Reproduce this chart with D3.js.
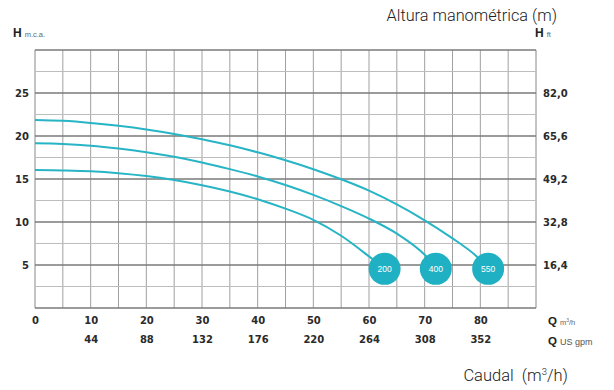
<!DOCTYPE html>
<html><head><meta charset="utf-8">
<script src="https://cdn.jsdelivr.net/npm/d3@7"></script>
<style>body{margin:0;background:#fff}</style>
</head><body>
<svg id="chart" width="614" height="390"></svg>
<script>
// ---- data ----
const flowM3hTicks = [0,10,20,30,40,50,60,70,80];
const flowGpmTicks = [44,88,132,176,220,264,308,352];
const flowGpmAt    = [10,20,30,40,50,60,70,80];
const headTicks    = [5,10,15,20,25];
const headFtLabels = ["16,4","32,8","49,2","65,6","82,0"];
const seriesNames  = ["200","400","550"];
const q200 = [0,5,10,15,20,25,30,35,40,45,50,55,60,62.8];
const h200 = [16.05,16.0,15.9,15.68,15.35,14.88,14.28,13.55,12.65,11.55,10.25,8.4,6.0,4.55];
const q400 = [0,5,10,15,20,25,30,35,40,45,50,55,60,65,70,72];
const h400 = [19.15,19.08,18.88,18.55,18.12,17.58,16.92,16.15,15.3,14.3,13.15,11.85,10.4,8.65,6.2,4.55];
const q550 = [0,5,10,15,20,25,30,35,40,45,50,55,60,65,70,75,79,81.4];
const h550 = [21.86,21.76,21.52,21.18,20.76,20.24,19.62,18.92,18.1,17.18,16.14,14.97,13.65,12.05,10.2,8.1,6.2,4.55];

const series = [
  {name: seriesNames[0], q: q200, h: h200},
  {name: seriesNames[1], q: q400, h: h400},
  {name: seriesNames[2], q: q550, h: h550}
];

const svg = d3.select("#chart");
const x = d3.scaleLinear().domain([0,90]).range([35,536]);
const y = d3.scaleLinear().domain([0,30]).range([308,50]);
const teal = "#27b5c6";
const tickFont = "DejaVu Sans, Liberation Sans, sans-serif";

// grid
const g = svg.append("g");
g.selectAll("line.v").data(d3.range(0,91,5)).join("line")
  .attr("x1", d=>x(d)).attr("x2", d=>x(d)).attr("y1", y(0)).attr("y2", y(30))
  .attr("stroke", d=> (d===0||d===90) ? "#888" : "#a0a0a0").attr("stroke-width", 1);
g.selectAll("line.h").data(d3.range(0,30.1,2.5)).join("line")
  .attr("x1", x(0)).attr("x2", x(90)).attr("y1", d=>y(d)).attr("y2", d=>y(d))
  .attr("stroke", d=> (d%5===0) ? "#7a7a7a" : "#bdbdbd")
  .attr("stroke-width", d=> (d===0) ? 1.6 : (d%5===0 ? 1.3 : 1));

function styleTicks(a){
  a.select(".domain").remove();
  a.selectAll("text").attr("font-family",tickFont).attr("font-weight","bold")
   .attr("font-size",10).attr("fill","#2a2a2a");
}
// left axis
svg.append("g").attr("transform",`translate(${x(0)},0)`)
  .call(d3.axisLeft(y).tickValues(headTicks).tickSize(0).tickPadding(6))
  .call(styleTicks);
// right axis
svg.append("g").attr("transform",`translate(${x(90)},0)`)
  .call(d3.axisRight(y).tickValues(headTicks).tickSize(0).tickPadding(7)
        .tickFormat((d,i)=>headFtLabels[i]))
  .call(styleTicks);
// bottom axes
svg.append("g").attr("transform",`translate(0,${y(0)})`)
  .call(d3.axisBottom(x).tickValues(flowM3hTicks).tickSize(0).tickPadding(9).tickFormat(d3.format("d")))
  .call(styleTicks);
svg.append("g").attr("transform",`translate(0,${y(0)+20})`)
  .call(d3.axisBottom(x).tickValues(flowGpmAt).tickSize(0).tickPadding(8)
        .tickFormat((d,i)=>flowGpmTicks[i]))
  .call(styleTicks);

// curves
const line = d3.line().x(d=>x(d[0])).y(d=>y(d[1])).curve(d3.curveCatmullRom.alpha(0.5));
series.forEach(s=>{
  const pts = s.q.map((q,i)=>[q,s.h[i]]);
  svg.append("path").attr("d", line(pts)).attr("fill","none")
    .attr("stroke", teal).attr("stroke-width", 2);
});
series.forEach(s=>{
  const n = s.q.length-1;
  const cx = x(s.q[n]), cy = y(s.h[n]);
  svg.append("circle").attr("cx",cx).attr("cy",cy).attr("r",16).attr("fill","#1fb1c3");
  svg.append("text").attr("x",cx).attr("y",cy+3).attr("text-anchor","middle")
    .attr("font-family","Liberation Sans, sans-serif").attr("font-size",8.5).attr("fill","#fff")
    .text(s.name);
});

// unit labels
function unitLabel(xp, yp, big, small){
  const t = svg.append("text").attr("x",xp).attr("y",yp).attr("fill","#222");
  t.append("tspan").attr("font-family","Liberation Sans, sans-serif").attr("font-weight","bold")
    .attr("font-size",12).text(big);
  t.append("tspan").attr("dx",3).attr("font-family","Liberation Sans Narrow, Liberation Sans, sans-serif")
    .attr("font-size",7.5).attr("fill","#666").text(small);
}
unitLabel(13, 37, "H", "m.c.a.");
unitLabel(535, 37, "H", "ft");
// Q labels
const tq1 = svg.append("text").attr("x",548).attr("y",325).attr("fill","#222");
tq1.append("tspan").attr("font-family","Liberation Sans, sans-serif").attr("font-weight","bold").attr("font-size",11.5).text("Q");
tq1.append("tspan").attr("dx",3).attr("font-family","Liberation Sans Narrow, sans-serif").attr("font-size",7.5).attr("fill","#666").text("m");
tq1.append("tspan").attr("font-family","Liberation Sans Narrow, sans-serif").attr("font-size",5).attr("dy",-3).attr("fill","#666").text("3");
tq1.append("tspan").attr("font-family","Liberation Sans Narrow, sans-serif").attr("font-size",7.5).attr("dy",3).attr("fill","#666").text("/h");
const tq2 = svg.append("text").attr("x",548).attr("y",345).attr("fill","#222");
tq2.append("tspan").attr("font-family","Liberation Sans, sans-serif").attr("font-weight","bold").attr("font-size",11.5).text("Q");
tq2.append("tspan").attr("dx",3).attr("font-family","Liberation Sans Narrow, sans-serif").attr("font-size",9).attr("fill","#555").text("US gpm");

// titles
svg.append("text").attr("x",557).attr("y",21).attr("text-anchor","end")
  .attr("font-family","Roboto, sans-serif").attr("font-weight",300).attr("font-size",16.3)
  .attr("fill","#222").text("Altura manométrica (m)");
const tc = svg.append("text").attr("x",568).attr("y",381).attr("text-anchor","end")
  .attr("font-family","Roboto, sans-serif").attr("font-weight",300).attr("font-size",16.5).attr("fill","#222");
tc.append("tspan").text("Caudal\u00a0\u00a0(m");
tc.append("tspan").attr("font-size",9.5).attr("dy",-6).text("3");
tc.append("tspan").attr("dy",6).text("/h)");
</script>
</body></html>
